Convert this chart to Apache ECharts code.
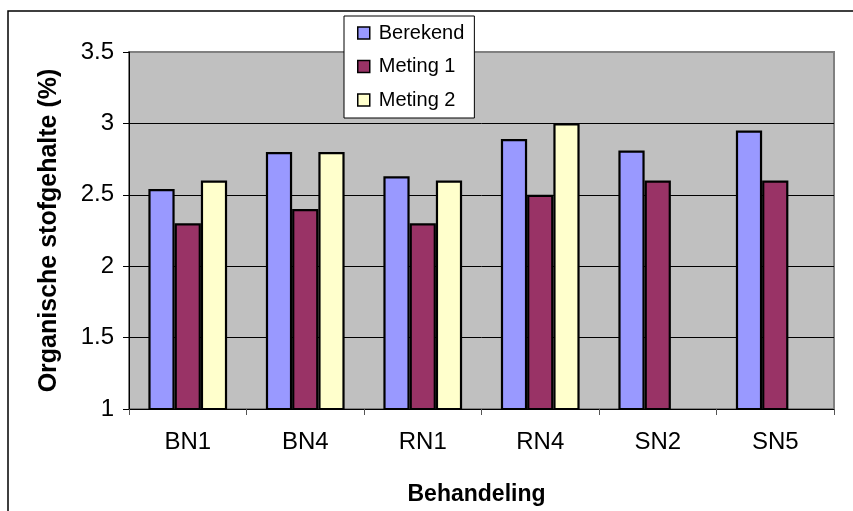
<!DOCTYPE html>
<html>
<head>
<meta charset="utf-8">
<script src="https://cdn.jsdelivr.net/npm/echarts@6/dist/echarts.min.js"></script>
<style>
html,body{margin:0;padding:0;background:#fff;}
#chart{width:853px;height:511px;}
</style>
</head>
<body>
<div id="chart"></div>
<script>
var categories = ['BN1', 'BN4', 'RN1', 'RN4', 'SN2', 'SN5'];
var berekend = [2.54, 2.80, 2.63, 2.89, 2.81, 2.95];
var meting1 = [2.30, 2.40, 2.30, 2.50, 2.60, 2.60];
var meting2 = [2.60, 2.80, 2.60, 3.00, null, null];
var seriesNames = ['Berekend', 'Meting 1', 'Meting 2'];
var colors = ['#9999FF', '#993366', '#FFFFCC'];

var font = '"Liberation Sans", Arial, sans-serif';
var chart = echarts.init(document.getElementById('chart'));

function mk(i, data) {
  return {
    name: seriesNames[i],
    type: 'bar',
    data: data,
    barGap: '0%',
    barCategoryGap: '33%',
    itemStyle: { color: colors[i], borderColor: '#000', borderWidth: 2.2 }
  };
}

chart.setOption({
  backgroundColor: '#fff',
  animation: false,
  textStyle: { fontFamily: font },
  graphic: [{
    type: 'rect',
    shape: { x: 8, y: 11, width: 900, height: 600 },
    style: { fill: 'none', stroke: '#000', lineWidth: 1.5 },
    silent: true
  }],
  grid: {
    left: 129, right: 19, top: 52, bottom: 101,
    show: true, backgroundColor: '#C0C0C0', borderColor: '#808080', borderWidth: 2
  },
  legend: {
    orient: 'vertical',
    left: 344, top: 16,
    padding: [7, 10, 8, 13],
    itemGap: 13.5,
    itemWidth: 12, itemHeight: 12,
    backgroundColor: '#fff',
    borderColor: '#000', borderWidth: 1,
    icon: 'rect',
    itemStyle: { borderColor: '#000', borderWidth: 1.5 },
    textStyle: { fontFamily: font, fontSize: 20, color: '#000', lineHeight: 20, padding: [0, 0, 0, 4] },
    data: seriesNames
  },
  xAxis: {
    type: 'category',
    data: categories,
    name: 'Behandeling',
    nameLocation: 'middle',
    nameGap: 74,
    nameTextStyle: { fontFamily: font, fontSize: 23, fontWeight: 'bold', color: '#000', padding: [0, 10, 0, 0] },
    axisLine: { lineStyle: { color: '#000', width: 1 } },
    axisTick: { show: true, length: 6, lineStyle: { color: '#555' } },
    axisLabel: { fontFamily: font, fontSize: 24, color: '#000', margin: 21 }
  },
  yAxis: {
    type: 'value',
    min: 1, max: 3.5, interval: 0.5,
    name: 'Organische stofgehalte (%)',
    nameLocation: 'middle',
    nameGap: 67,
    nameTextStyle: { fontFamily: font, fontSize: 25, fontWeight: 'bold', color: '#000' },
    axisLine: { show: true, lineStyle: { color: '#000', width: 1 } },
    axisTick: { show: true, length: 6, lineStyle: { color: '#000' } },
    axisLabel: { fontFamily: font, fontSize: 24, color: '#000', margin: 15 },
    splitLine: { show: true, showMaxLine: false, showMinLine: false, lineStyle: { color: '#000', width: 1 } }
  },
  series: [mk(0, berekend), mk(1, meting1), mk(2, meting2)]
});
</script>
</body>
</html>
